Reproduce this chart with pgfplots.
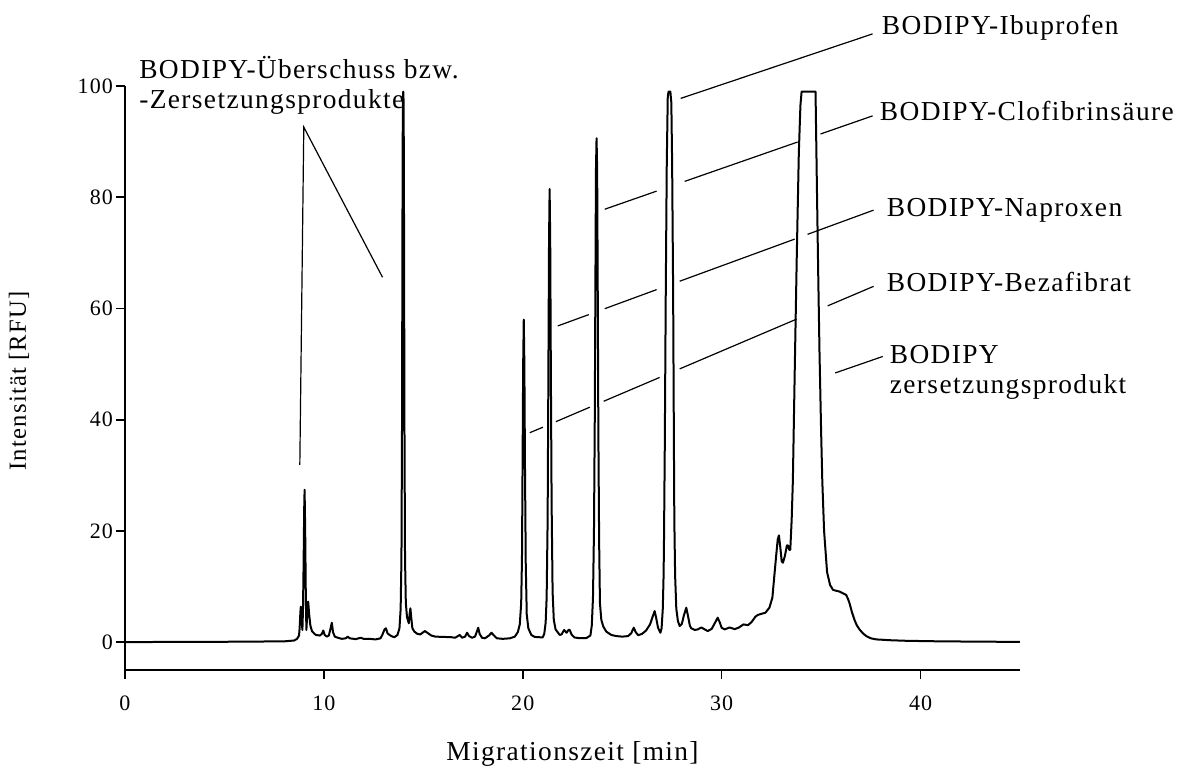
\documentclass[border=0pt]{standalone}
\usepackage{fontspec}
\setmainfont{Liberation Serif}[LetterSpace=5]
\usepackage{pgfplots}
\pgfplotsset{compat=1.18}
\newcommand\lbl{\fontsize{13.7}{15}\selectfont}
\begin{document}
\begin{tikzpicture}
\begin{axis}[name=ax, width=447.5pt, height=292pt, scale only axis,
 xmin=0, xmax=45, ymin=-5, ymax=100,
 axis x line=bottom, axis y line=left,
 axis line style={-, line width=0.8pt},
 xtick={0,10,20,30,40}, ytick={0,20,40,60,80,100},
 tick align=outside, major tick length=4.5pt,
 tick style={line width=0.8pt, black},
 /pgf/number format/assume math mode=true,
 ticklabel style={font=\fontsize{11}{13}\selectfont},
 xticklabel style={yshift=-5pt},
 yticklabel style={xshift=2pt},
 xlabel={Migrationszeit [min]}, ylabel={Intensität [RFU]},
 every axis x label/.style={at={(axis description cs:0.5,-0.1558)}, anchor=base, font=\lbl},
 every axis y label/.style={at={(axis description cs:-0.1184,0.495)}, rotate=90, anchor=center, font=\fontsize{12.3}{14}\selectfont},
 clip=false]
\addplot[line width=1pt, black, line join=round] coordinates {
(0,0) (2,0.05) (4,0.05) (6,0.1) (8,0.15) (8.5,0.3) (8.65,0.6) (8.75,1.2)
(8.78,2.5) (8.82,5.5) (8.84,6.4) (8.87,4.5) (8.92,2.2) (8.95,6) (8.98,14) (9.01,24) (9.03,27.4) (9.06,20) (9.09,9) (9.12,2.2)
(9.17,5.5) (9.21,7.3) (9.26,5) (9.32,3) (9.4,2) (9.5,1.6) (9.6,1.3) (9.8,1.2) (9.9,1.5) (9.97,2.1) (10.04,1.3) (10.15,1.0)
(10.25,1.2) (10.33,2.4) (10.4,3.5) (10.46,1.8) (10.55,1.0) (10.7,0.8) (10.9,0.6) (11.1,0.7) (11.2,1.0) (11.3,0.7) (11.6,0.55)
(11.85,0.8) (12.0,0.6) (12.3,0.6) (12.6,0.5) (12.85,0.7) (12.95,1.4) (13.05,2.3) (13.12,2.5) (13.2,1.6) (13.3,1.3) (13.45,1.0)
(13.55,0.9) (13.7,1.3) (13.8,2.5) (13.86,6) (13.9,15) (13.93,40) (13.95,75) (13.97,97) (13.99,99) (14.01,97) (14.03,75)
(14.05,40) (14.08,15) (14.12,7) (14.18,4.5) (14.27,3.4) (14.31,5) (14.35,6.1) (14.39,4.5) (14.45,2.5) (14.55,1.9) (14.7,1.5)
(14.85,1.4) (15.0,1.8) (15.08,2.0) (15.2,1.7) (15.4,1.2) (15.6,1.0) (16.0,0.95) (16.4,0.9) (16.6,0.8) (16.83,1.3) (16.95,0.8)
(17.1,1.0) (17.2,1.7) (17.3,1.1) (17.45,0.8) (17.6,1.0) (17.7,2.0) (17.76,2.6) (17.83,1.5) (17.95,0.8) (18.1,0.7) (18.3,1.2)
(18.43,1.7) (18.55,1.2) (18.7,0.7) (19.0,0.6) (19.35,0.7) (19.6,1.0) (19.75,1.8) (19.85,3.2) (19.92,7) (19.96,15) (19.99,32)
(20.02,50) (20.05,58) (20.08,50) (20.11,32) (20.15,14) (20.2,5) (20.28,2.5) (20.43,1.3) (20.6,0.95) (21.0,0.85) (21.08,1.5)
(21.15,3.5) (21.2,8) (21.25,22) (21.29,50) (21.32,72) (21.35,81.5) (21.38,72) (21.41,50) (21.45,25) (21.5,9) (21.56,4)
(21.65,2.3) (21.86,1.3) (21.95,1.4) (22.08,2.2) (22.2,1.7) (22.3,2.2) (22.36,2.2) (22.45,1.4) (22.6,0.85) (22.8,0.75)
(23.2,0.75) (23.4,1.2) (23.47,3) (23.53,8) (23.58,20) (23.62,40) (23.65,63) (23.68,85) (23.71,90.6) (23.74,85) (23.77,63)
(23.8,38) (23.84,18) (23.88,7) (23.95,4) (24.05,2.8) (24.2,1.9) (24.45,1.3) (24.7,1.1) (25.0,1.0) (25.3,1.1) (25.45,1.6)
(25.58,2.6) (25.68,1.8) (25.8,1.26) (26.0,1.5) (26.2,2.1) (26.4,3.2) (26.55,4.8) (26.63,5.6) (26.7,4.5) (26.8,2.6) (26.92,1.7)
(26.98,2.5) (27.04,6) (27.08,12) (27.1,18) (27.14,35) (27.19,63) (27.24,86) (27.29,98) (27.33,99) (27.42,99) (27.47,97)
(27.51,86) (27.56,63) (27.6,35) (27.62,22) (27.66,12) (27.72,6) (27.8,3.8) (27.89,2.9) (28.0,3.3) (28.1,4.8) (28.22,6.2)
(28.32,4.5) (28.4,3.0) (28.47,2.5) (28.65,2.2) (28.8,2.3) (28.98,2.65) (29.15,2.3) (29.3,2.0) (29.5,2.4) (29.65,3.4) (29.8,4.4)
(29.9,3.6) (30.0,2.6) (30.15,2.3) (30.4,2.65) (30.65,2.35) (30.85,2.6) (31.1,3.2) (31.32,3.06) (31.5,3.6) (31.7,4.6)
(31.82,4.9) (32.0,5.1) (32.2,5.3) (32.4,6.2) (32.55,8) (32.65,12) (32.75,15.9) (32.82,18.5) (32.88,19.2) (32.95,17) (33.02,14.5)
(33.08,14.3) (33.18,15.5) (33.28,17.4) (33.33,17.4) (33.4,16.6) (33.45,16.6) (33.52,22) (33.58,29) (33.68,50) (33.78,70)
(33.88,88) (33.96,96.5) (34.02,99) (34.72,99) (34.79,81.6) (34.86,65) (34.92,52) (35.0,38) (35.06,29) (35.15,20) (35.3,12.6)
(35.45,10.3) (35.6,9.4) (35.93,9.1) (36.15,8.7) (36.26,8.5) (36.35,7.8) (36.43,7.0) (36.55,5.4) (36.68,4.0) (36.8,3.0)
(36.93,2.3) (37.1,1.6) (37.27,1.1) (37.5,0.7) (37.77,0.5) (38.5,0.35) (39.28,0.25) (41,0.15) (43,0.1) (45,0.05)
};
% leader lines
\draw[line width=0.6pt] (axis cs:8.79,31.89) -- (axis cs:8.99,92.6) -- (axis cs:12.95,65.6);
\draw[line width=0.6pt] (axis cs:27.94,97.77) -- (axis cs:37.59,109.37);
\draw[line width=0.6pt] (axis cs:24.12,77.84) -- (axis cs:26.73,81.1);
\draw[line width=0.6pt] (axis cs:28.14,82.85) -- (axis cs:33.82,89.93);
\draw[line width=0.6pt] (axis cs:34.97,91.37) -- (axis cs:37.59,94.63);
\draw[line width=0.6pt] (axis cs:21.76,56.86) -- (axis cs:23.32,58.9);
\draw[line width=0.6pt] (axis cs:24.12,59.96) -- (axis cs:26.73,63.39);
\draw[line width=0.6pt] (axis cs:27.89,64.9) -- (axis cs:33.67,72.47);
\draw[line width=0.6pt] (axis cs:34.32,73.33) -- (axis cs:37.64,77.68);
\draw[line width=0.6pt] (axis cs:20.35,37.66) -- (axis cs:21.01,38.65);
\draw[line width=0.6pt] (axis cs:21.66,39.64) -- (axis cs:23.37,42.25);
\draw[line width=0.6pt] (axis cs:24.07,43.32) -- (axis cs:26.88,47.6);
\draw[line width=0.6pt] (axis cs:27.89,49.14) -- (axis cs:33.77,58.09);
\draw[line width=0.6pt] (axis cs:35.33,60.47) -- (axis cs:37.64,63.98);
\draw[line width=0.6pt] (axis cs:35.71,48.41) -- (axis cs:38.1,51.37);
% labels
\node[anchor=base west, inner sep=0pt, font=\lbl] at (axis cs:0.70,101.3) {BODIPY-Überschuss bzw.};
\node[anchor=base west, inner sep=0pt, font=\lbl] at (axis cs:0.70,95.9) {-Zersetzungsprodukte};
\node[anchor=base west, inner sep=0pt, font=\lbl] at (axis cs:38.04,109.2) {BODIPY-Ibuprofen};
\node[anchor=base west, inner sep=0pt, font=\lbl] at (axis cs:37.94,93.75) {BODIPY-Clofibrinsäure};
\node[anchor=base west, inner sep=0pt, font=\lbl] at (axis cs:38.29,76.6) {BODIPY-Naproxen};
\node[anchor=base west, inner sep=0pt, font=\lbl] at (axis cs:38.29,63.1) {BODIPY-Bezafibrat};
\node[anchor=base west, inner sep=0pt, font=\lbl] at (axis cs:38.44,50.1) {BODIPY};
\node[anchor=base west, inner sep=0pt, font=\lbl] at (axis cs:38.44,44.7) {zersetzungsprodukt};
\end{axis}
\pgfresetboundingbox
\path[use as bounding box] ([shift={(-62.5pt,-48pt)}]ax.south west) rectangle ([shift={(527pt,335pt)}]ax.south west);
\end{tikzpicture}
\end{document}
